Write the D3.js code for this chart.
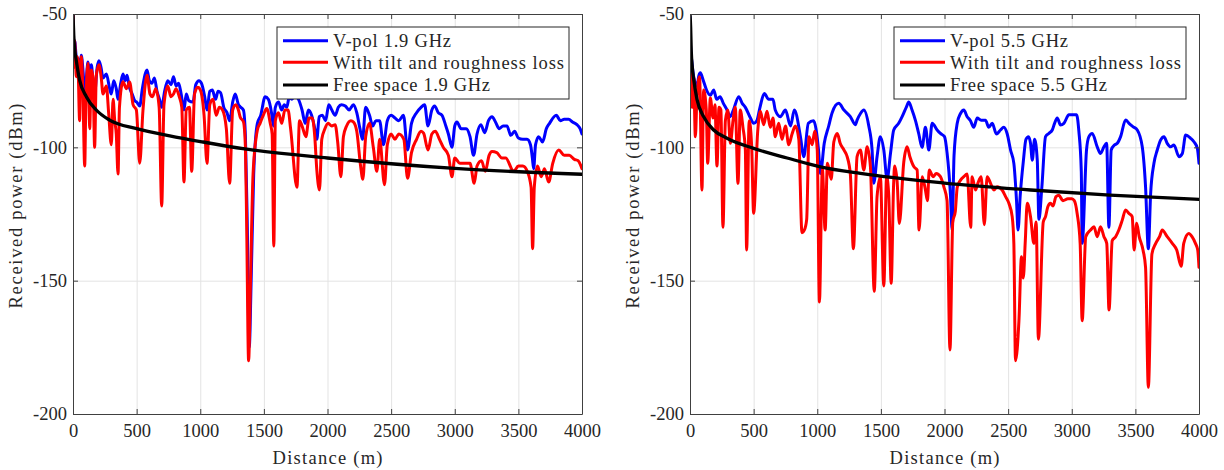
<!DOCTYPE html>
<html><head><meta charset="utf-8">
<script src="https://cdn.jsdelivr.net/npm/d3@7"></script>
<style>
html,body{margin:0;padding:0;background:#fff;}
svg{display:block;}
text{font-family:"Liberation Serif","DejaVu Serif",serif;fill:#262626;}
</style></head>
<body>
<svg id="chart" width="1224" height="470"></svg>
<script>
// ---------------- DATA ----------------
const xTicks = [0,500,1000,1500,2000,2500,3000,3500,4000];
const yTicks = [-200,-150,-100,-50];
const xLabel = "Distance (m)";
const yLabel = "Received power (dBm)";
const legend19 = ["V-pol 1.9 GHz","With tilt and roughness loss","Free space 1.9 GHz"];
const legend55 = ["V-pol 5.5 GHz","With tilt and roughness loss","Free space 5.5 GHz"];

const vpol19 = [[0,-50],[5,-62],[13,-60],[26,-66],[40,-67],[52,-74],[65,-65.5],[80,-72],[92,-80],[105,-74],[118,-68],[131,-72],[144,-69],[157,-75],[170,-80],[190,-70],[204,-67.5],[220,-70],[236,-74],[262,-72.5],[288,-78],[301,-80],[320,-75],[340,-78],[354,-82],[375,-76],[393,-72.5],[410,-75],[425,-73],[440,-77],[465,-80],[485,-82.5],[500,-83],[524,-84.5],[545,-78],[582,-71],[600,-75],[620,-76],[640,-74],[660,-79],[680,-82],[697,-85],[720,-79],[745,-75],[770,-76.5],[790,-73.5],[810,-77],[830,-76],[850,-80],[872,-86],[890,-80],[910,-82.5],[943,-83],[965,-76.5],[990,-75],[1010,-76],[1035,-81],[1053,-86],[1075,-79],[1095,-78.5],[1120,-82],[1140,-79],[1160,-79.5],[1185,-85],[1210,-87],[1231,-90],[1255,-83],[1275,-80],[1300,-84],[1313,-84.75],[1339,-86],[1355,-96],[1370,-130],[1385,-175],[1400,-150],[1420,-110],[1449,-91],[1475,-88],[1510,-81],[1535,-82],[1560,-87],[1575,-92],[1590,-85],[1615,-83],[1640,-86],[1660,-84],[1680,-85],[1700,-81],[1720,-82],[1740,-80.5],[1772,-82],[1800,-86],[1825,-91],[1850,-86],[1875,-88],[1900,-93],[1916,-97],[1935,-88.5],[1960,-88],[1985,-90],[2010,-84],[2034,-86],[2060,-88],[2085,-85],[2110,-84],[2140,-84.5],[2170,-86],[2204,-84],[2230,-87],[2255,-93],[2275,-97],[2300,-85],[2330,-88],[2355,-92],[2380,-90],[2409,-90],[2440,-99],[2470,-90],[2500,-88],[2530,-89],[2560,-90],[2597,-88],[2629,-101],[2660,-91],[2700,-87],[2735,-85],[2763,-84],[2790,-92],[2820,-86],[2842,-84.5],[2870,-87],[2900,-88],[2930,-92],[2950,-95],[2978,-100],[3000,-92],[3017,-90.5],[3050,-93],[3090,-93],[3120,-96],[3148,-103],[3175,-95],[3205,-91.5],[3235,-94.5],[3265,-90],[3293,-88.5],[3320,-90.5],[3350,-93],[3380,-92],[3411,-92],[3440,-95.5],[3470,-94],[3500,-96.5],[3535,-97],[3568,-97],[3595,-99],[3610,-104],[3620,-108],[3635,-99],[3660,-96],[3690,-98],[3720,-93],[3745,-91],[3798,-88],[3830,-90],[3860,-89.5],[3895,-89.5],[3925,-90.5],[3960,-91.5],[3985,-93],[4000,-95]];

const tilt19 = [[0,-50],[5,-70],[13,-60],[20,-68],[26,-73.5],[33,-66],[40,-70],[52,-90],[58,-72],[65,-66],[78,-80],[92,-107],[100,-86],[110,-72],[118,-68.5],[125,-80],[131,-93],[144,-71],[157,-74],[170,-100],[183,-73],[204,-69],[222,-74],[236,-80],[262,-77],[280,-87],[301,-99],[315,-82],[328,-90],[340,-95],[354,-110],[365,-85],[393,-75.4],[420,-78],[445,-75.5],[472,-84],[498,-86],[524,-106],[550,-86],[582,-73],[605,-80],[625,-81],[650,-78],[677,-85],[697,-122],[715,-84],[745,-77],[770,-81],[790,-80],[810,-78],[835,-81],[855,-85],[872,-113],[890,-86],[915,-85],[933,-109],[955,-80],[980,-77.5],[1001,-78.5],[1030,-88],[1053,-106],[1075,-84],[1100,-82],[1125,-88],[1150,-85],[1175,-86],[1205,-93],[1231,-113.5],[1255,-86],[1280,-84],[1300,-86],[1313,-88.5],[1340,-90.5],[1355,-100],[1365,-130],[1380,-180],[1395,-150],[1415,-110],[1449,-93.5],[1470,-91],[1495,-88],[1523,-85.4],[1550,-91],[1565,-95],[1578,-137],[1590,-90],[1615,-87],[1640,-91],[1665,-86],[1690,-86],[1710,-93],[1760,-115],[1780,-90],[1800,-92],[1830,-96],[1855,-89],[1880,-89],[1900,-96],[1916,-108.5],[1937,-116],[1955,-97],[1980,-93],[2005,-91],[2034,-92],[2060,-91.5],[2080,-98],[2105,-111],[2125,-96],[2150,-92],[2184,-90],[2204,-90.5],[2230,-94],[2260,-107],[2278,-112],[2300,-96],[2330,-91],[2360,-100],[2388,-109],[2410,-97],[2448,-114],[2470,-99],[2500,-95],[2530,-97],[2560,-95],[2600,-97],[2629,-111.6],[2660,-102],[2700,-97],[2735,-94],[2755,-94.7],[2790,-101],[2820,-95],[2847,-94],[2880,-97],[2910,-100],[2950,-103],[2978,-111],[3000,-104],[3040,-106],[3080,-106],[3120,-106],[3153,-113.5],[3175,-107],[3210,-105],[3240,-109],[3270,-103],[3293,-101.6],[3330,-102],[3370,-104],[3400,-104],[3463,-109],[3500,-107],[3535,-107],[3570,-109],[3600,-115],[3612,-138],[3625,-115],[3650,-107],[3680,-111],[3705,-108],[3738,-113],[3770,-106],[3817,-101],[3860,-103],[3900,-103],[3940,-104.5],[3970,-105],[4000,-108]];

const free19 = [[0,-50],[6,-58],[13,-63],[26,-67.5],[52,-74.8],[105,-81],[183,-86],[288,-89.8],[500,-93],[760,-95.7],[1022,-98],[1350,-100.6],[2000,-104],[3000,-107.9],[4000,-110.1]];

const vpol55 = [[0,-51],[3,-61],[16,-68.5],[29,-73.5],[55,-77],[70,-73],[81,-72],[105,-75],[130,-78.5],[160,-80.5],[186,-78.5],[210,-82],[236,-81],[262,-83.5],[291,-86],[315,-88.5],[341,-86],[383,-81],[410,-83.5],[435,-85],[475,-89],[500,-91],[525,-90],[550,-85],[584,-79.8],[618,-82],[652,-82],[670,-86],[710,-88.5],[750,-86],[790,-92],[820,-86],[868,-96],[894,-103.5],[930,-91],[970,-90],[1010,-101],[1025,-109.8],[1055,-98.5],[1090,-92],[1117,-87],[1169,-83.5],[1210,-86],[1260,-88.5],[1300,-91.5],[1313,-89.8],[1340,-87.3],[1366,-86],[1405,-92],[1431,-101],[1444,-113.5],[1470,-103.5],[1496,-96],[1523,-101],[1549,-112],[1575,-102.5],[1601,-93.5],[1640,-91],[1667,-88.5],[1701,-84.8],[1719,-83],[1745,-86],[1772,-90],[1798,-95],[1824,-100],[1850,-92.5],[1877,-101],[1903,-91],[1942,-93.5],[1968,-94.8],[2000,-96],[2020,-102],[2047,-118],[2060,-131],[2075,-103],[2100,-91],[2126,-87.3],[2152,-86],[2178,-88.5],[2204,-90],[2230,-92.5],[2257,-89],[2288,-89.8],[2322,-89.8],[2348,-92.5],[2375,-91],[2408,-95],[2440,-93.5],[2466,-92.5],[2493,-95],[2519,-101],[2545,-106],[2566,-120],[2578,-131],[2595,-118],[2620,-105],[2640,-97],[2660,-96],[2676,-98.5],[2690,-104.8],[2708,-97],[2729,-104.8],[2742,-127],[2765,-115],[2794,-96],[2820,-94.8],[2847,-93.5],[2865,-91],[2886,-89],[2912,-91.6],[2938,-91],[2978,-87.8],[3017,-87.8],[3038,-87.8],[3056,-94],[3075,-109],[3082,-136],[3116,-101],[3135,-96],[3161,-94.8],[3200,-99.8],[3226,-102.3],[3253,-99.8],[3274,-98.5],[3292,-130],[3310,-101],[3337,-99.1],[3358,-98.5],[3384,-96],[3423,-89.75],[3450,-91],[3483,-92.3],[3515,-93.5],[3554,-99.8],[3580,-114.8],[3602,-138],[3620,-117.3],[3646,-106],[3672,-101],[3698,-97.3],[3725,-96],[3750,-98.5],[3777,-99.8],[3803,-99.1],[3843,-103.5],[3869,-102.3],[3895,-95.4],[3934,-96.6],[3960,-97.9],[3987,-100.4],[4000,-106]];

const tilt55 = [[0,-58.5],[3,-67],[10,-80],[16,-85],[21,-79],[29,-74],[42,-96],[55,-81],[75,-73.5],[94,-116],[107,-78.5],[128,-86],[139,-106],[160,-81.5],[181,-89],[196,-84],[212,-107],[228,-85],[243,-86],[259,-130],[278,-90],[297,-86],[317,-98.5],[338,-90],[356,-85],[377,-113.5],[395,-86],[416,-92.5],[435,-101],[445,-138.5],[465,-90],[484,-99],[500,-124.7],[532,-94],[553,-86.5],[579,-91.5],[605,-86.5],[631,-92.5],[652,-89],[670,-96],[697,-91],[723,-97],[750,-92],[776,-99],[802,-95],[828,-92],[855,-97],[880,-132],[899,-131],[917,-127],[935,-96],[960,-99],[980,-94],[1000,-101],[1017,-158],[1040,-108],[1062,-131],[1080,-106],[1110,-112],[1130,-98],[1158,-94.8],[1180,-98.5],[1210,-101],[1235,-103.5],[1260,-110],[1284,-138],[1313,-103.5],[1339,-101],[1366,-108.5],[1392,-99.8],[1418,-107.3],[1448,-154],[1470,-118.5],[1496,-111],[1523,-152],[1545,-111],[1562,-118],[1581,-151],[1600,-114],[1608,-107],[1628,-113],[1645,-128.6],[1680,-105.5],[1706,-99.8],[1728,-103.5],[1760,-107.3],[1785,-108.5],[1800,-131],[1825,-111],[1850,-116],[1866,-120],[1880,-108.5],[1910,-111],[1935,-109.8],[1968,-111],[1995,-114.8],[2020,-120],[2043,-176],[2065,-128],[2085,-124],[2100,-115],[2126,-112.3],[2152,-111],[2178,-110],[2206,-130],[2217,-111],[2243,-116],[2262,-113.5],[2288,-111],[2313,-129],[2335,-111],[2362,-113.5],[2388,-116],[2414,-114.8],[2453,-116],[2480,-118.5],[2506,-121],[2532,-126],[2545,-136],[2558,-180],[2585,-165],[2605,-141],[2619,-149],[2635,-135],[2650,-121],[2676,-126],[2702,-136],[2720,-128],[2738,-172],[2776,-128],[2794,-126],[2812,-122.3],[2833,-121],[2853,-122],[2876,-118.5],[2900,-118],[2930,-120],[2970,-119.3],[3000,-119.3],[3020,-120],[3043,-125],[3066,-136],[3082,-165],[3110,-133.5],[3148,-131],[3175,-129.8],[3200,-133.5],[3226,-129.8],[3253,-133.5],[3275,-136],[3293,-161],[3318,-135],[3345,-133.5],[3370,-131],[3397,-127.3],[3423,-123.5],[3450,-124.8],[3475,-126],[3490,-138.5],[3510,-128.5],[3530,-133.5],[3560,-138.5],[3580,-145],[3602,-190],[3630,-140],[3660,-136],[3690,-133.5],[3711,-131],[3750,-133.5],[3790,-136],[3825,-138.5],[3860,-144.6],[3880,-136],[3920,-132.3],[3945,-133.5],[3972,-136],[3990,-138.5],[4000,-145]];

const free55 = [[0,-50],[5,-55],[10,-64],[18,-70],[29,-74.5],[55,-82],[107,-88.5],[186,-93.5],[291,-96.6],[500,-100.4],[763,-104],[1025,-107.3],[1339,-109.8],[2000,-113.4],[2676,-116],[3300,-117.9],[4000,-119.5]];

// ---------------- DRAW ----------------
const svg = d3.select("#chart");
const yTop = 14, yBot = 414;
const FS = 18.5;
const panels = [
  {x0:73, x1:582, vpol:vpol19, tilt:tilt19, free:free19, leg:legend19, id:"a"},
  {x0:690, x1:1199, vpol:vpol55, tilt:tilt55, free:free55, leg:legend55, id:"b"}
];
const legendWidths = [118, 231, 157];

panels.forEach(p => {
  const x = d3.scaleLinear().domain([0,4000]).range([p.x0,p.x1]);
  const y = d3.scaleLinear().domain([-200,-50]).range([yBot,yTop]);
  const g = svg.append("g");
  const w = p.x1 - p.x0, h = yBot - yTop;

  // grid
  const gx = g.append("g").attr("transform",`translate(0,${yBot})`)
    .call(d3.axisBottom(x).tickValues(xTicks).tickSize(-h).tickFormat(""));
  const gy = g.append("g").attr("transform",`translate(${p.x0},0)`)
    .call(d3.axisLeft(y).tickValues(yTicks).tickSize(-w).tickFormat(""));
  [gx,gy].forEach(a=>{a.select(".domain").remove(); a.selectAll("line").attr("stroke","#e3e3e3").attr("stroke-width",1);});

  // clip
  svg.append("clipPath").attr("id","clip"+p.id).append("rect")
    .attr("x",p.x0).attr("y",yTop).attr("width",w).attr("height",h);

  const lineSmooth = d3.line().x(d=>x(d[0])).y(d=>y(d[1])).curve(d3.curveMonotoneX);
  const data = g.append("g").attr("clip-path",`url(#clip${p.id})`);
  [[p.vpol,"#0000ff",3],[p.tilt,"#ff0000",3],[p.free,"#000000",3.3]].forEach(([s,c,sw])=>{
    data.append("path").datum(s).attr("d",lineSmooth).attr("fill","none")
      .attr("stroke",c).attr("stroke-width",sw).attr("stroke-linejoin","round").attr("stroke-linecap","round");
  });

  // axes
  const axCol = "#404040";
  const ab = g.append("g").attr("transform",`translate(0,${yBot})`)
    .call(d3.axisBottom(x).tickValues(xTicks).tickSizeInner(-5).tickSizeOuter(0).tickPadding(10).tickFormat(d=>String(d)));
  const at = g.append("g").attr("transform",`translate(0,${yTop})`)
    .call(d3.axisTop(x).tickValues(xTicks).tickSizeInner(-5).tickSizeOuter(0).tickFormat(""));
  const al = g.append("g").attr("transform",`translate(${p.x0},0)`)
    .call(d3.axisLeft(y).tickValues(yTicks).tickSizeInner(-5).tickSizeOuter(0).tickPadding(6).tickFormat(d=>String(d)));
  const ar = g.append("g").attr("transform",`translate(${p.x1},0)`)
    .call(d3.axisRight(y).tickValues(yTicks).tickSizeInner(-5).tickSizeOuter(0).tickFormat(""));
  [ab,at,al,ar].forEach(a=>{
    a.select(".domain").attr("stroke",axCol).attr("stroke-width",1);
    a.selectAll(".tick line").attr("stroke",axCol).attr("stroke-width",1);
    a.selectAll("text").attr("font-family",'"Liberation Serif",serif').attr("font-size",FS).attr("fill","#262626");
  });

  // axis labels
  g.append("text").attr("x",(p.x0+p.x1)/2).attr("y",464).attr("text-anchor","middle")
    .attr("font-size",FS).attr("textLength",110).attr("lengthAdjust","spacing").text(xLabel);
  g.append("text").attr("transform",`translate(${p.x0-51},${(yTop+yBot)/2 - 8}) rotate(-90)`)
    .attr("text-anchor","middle").attr("font-size",FS).attr("textLength",205).attr("lengthAdjust","spacing").text(yLabel);

  // legend
  const lx = p.x0 + 204, ly = 27;
  const lg = g.append("g");
  lg.append("rect").attr("x",lx).attr("y",ly).attr("width",292).attr("height",72)
    .attr("fill","#fff").attr("stroke","#262626").attr("stroke-width",1);
  const cols = ["#0000ff","#ff0000","#000000"];
  const rows = [40.7,62.3,85];
  p.leg.forEach((t,i)=>{
    lg.append("line").attr("x1",lx+6).attr("x2",lx+51).attr("y1",rows[i]).attr("y2",rows[i])
      .attr("stroke",cols[i]).attr("stroke-width",3);
    lg.append("text").attr("x",lx+56).attr("y",rows[i]+6.3).attr("font-size",FS)
      .attr("textLength",legendWidths[i]).attr("lengthAdjust","spacing").text(t);
  });
});
</script>
</body></html>
